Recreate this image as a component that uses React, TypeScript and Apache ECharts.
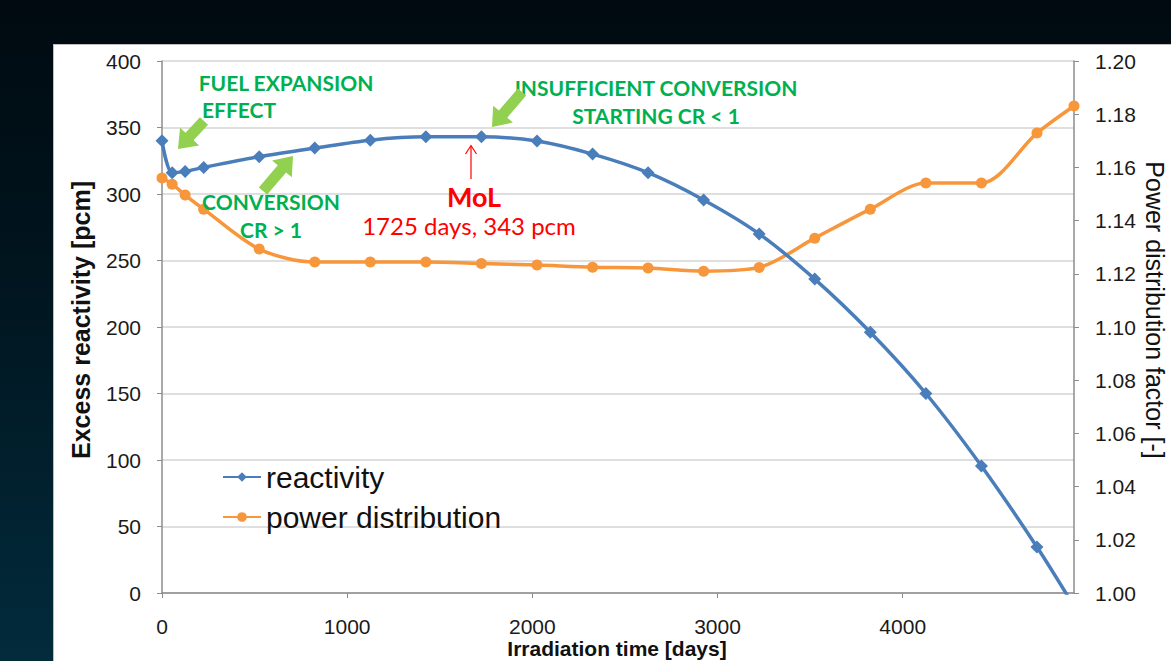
import React, { useEffect, useRef } from "react";
import * as echarts from "echarts";

// ---- data ----
const days = [0, 55, 125, 225, 525, 825, 1125, 1425, 1725, 2025, 2325, 2625, 2925, 3225, 3525, 3825, 4125, 4425, 4725, 4925];
const reactivity = [340, 316, 317, 320, 328, 334.5, 340.5, 343, 343, 339.8, 330, 316, 295.5, 270, 236, 196, 150, 95.5, 34.6, -10];
const powerFactor = [1.156, 1.1537, 1.1496, 1.1443, 1.1293, 1.1244, 1.1244, 1.1244, 1.1239, 1.1233, 1.1225, 1.1222, 1.121, 1.1224, 1.1334, 1.1443, 1.1541, 1.1541, 1.1729, 1.1831];
const seriesNames = ["reactivity", "power distribution"];
const xTitle = "Irradiation time [days]";
const yLeftTitle = "Excess reactivity [pcm]";
const yRightTitle = "Power distribution factor [-]";

const BLUE = "#4a7ebb";
const ORANGE = "#f7963a";
const GREEN_TXT = "#00b050";
const GREEN_ARROW = "#92d050";
const RED = "#ff0000";

function blockArrow(tail: number[], tip: number[], sw = 11, hw = 26, hl = 17) {
  const dx = tip[0] - tail[0];
  const dy = tip[1] - tail[1];
  const len = Math.hypot(dx, dy);
  const ux = dx / len, uy = dy / len;
  const nx = -uy, ny = ux;
  const bx = tip[0] - ux * hl, by = tip[1] - uy * hl;
  return [
    [tail[0] + nx * sw / 2, tail[1] + ny * sw / 2],
    [bx + nx * sw / 2, by + ny * sw / 2],
    [bx + nx * hw / 2, by + ny * hw / 2],
    [tip[0], tip[1]],
    [bx - nx * hw / 2, by - ny * hw / 2],
    [bx - nx * sw / 2, by - ny * sw / 2],
    [tail[0] - nx * sw / 2, tail[1] - ny * sw / 2],
  ];
}

export default function App() {
  const ref = useRef<HTMLDivElement>(null);
  useEffect(() => {
    if (!ref.current) return;
    const chart = echarts.init(ref.current, undefined, { renderer: "svg" });
    const annoFont = "bold 21px Lato";
    const txt = (text: string, x: number, y: number, fill: string, font: string, extra: any = {}) => ({
      type: "text",
      x,
      y,
      z: 100,
      ...extra,
      style: { text, fill, font, align: "center", verticalAlign: "middle" },
    });
    const tickLabel = { fontSize: 21, fontFamily: "Liberation Sans", color: "#1a1a1a" };
    chart.setOption({
      animation: false,
      backgroundColor: "transparent",
      grid: { left: 162, right: 97, top: 61, bottom: 68, containLabel: false },
      legend: {
        orient: "vertical",
        left: 217,
        top: 456,
        itemWidth: 38,
        itemHeight: 12,
        itemGap: 8,
        data: seriesNames,
        textStyle: { fontSize: 30, fontFamily: "Liberation Sans", color: "#111", lineHeight: 32 },
      },
      xAxis: {
        type: "value",
        min: 0,
        max: days[days.length - 1],
        interval: 1000,
        axisLine: { show: true, onZero: false, lineStyle: { color: "#8c8c8c", width: 1.5 } },
        axisTick: { show: true, length: 5, lineStyle: { color: "#8c8c8c" } },
        axisLabel: { ...tickLabel, margin: 23, showMaxLabel: false, formatter: (v: number) => String(v) },
        splitLine: { show: false },
      },
      yAxis: [
        {
          type: "value",
          min: 0,
          max: 400,
          interval: 50,
          axisLine: { show: true, lineStyle: { color: "#8c8c8c", width: 1.5 } },
          axisTick: { show: true, length: 5, lineStyle: { color: "#8c8c8c" } },
          axisLabel: { ...tickLabel, margin: 21 },
          splitLine: { show: true, lineStyle: { color: "#d4d4d4", width: 1.5 } },
        },
        {
          type: "value",
          min: 1.0,
          max: 1.2,
          interval: 0.02,
          position: "right",
          axisLine: { show: true, lineStyle: { color: "#8c8c8c", width: 1.5 } },
          axisTick: { show: true, length: 5, lineStyle: { color: "#8c8c8c" } },
          axisLabel: { ...tickLabel, margin: 21, formatter: (v: number) => v.toFixed(2) },
          splitLine: { show: false },
        },
      ],
      series: [
        {
          name: seriesNames[0],
          type: "line",
          yAxisIndex: 0,
          data: days.map((d, i) => [d, reactivity[i]]),
          smooth: 0.3,
          clip: true,
          symbol: "diamond",
          symbolSize: 13,
          lineStyle: { color: BLUE, width: 3.5 },
          itemStyle: { color: BLUE },
          z: 3,
        },
        {
          name: seriesNames[1],
          type: "line",
          yAxisIndex: 1,
          data: days.map((d, i) => [d, powerFactor[i]]),
          smooth: 0.3,
          clip: false,
          symbol: "circle",
          symbolSize: 11,
          lineStyle: { color: ORANGE, width: 3.5 },
          itemStyle: { color: ORANGE },
          z: 2,
        },
      ],
      graphic: [
        // axis titles
        txt(yLeftTitle, 81, 320, "#111", "bold 25px Liberation Sans", { rotation: Math.PI / 2 }),
        txt(yRightTitle, 1155, 310, "#111", "25px Liberation Sans", { rotation: -Math.PI / 2 }),
        txt(xTitle, 617, 648, "#111", "bold 21px Liberation Sans"),
        // green annotations
        txt("FUEL EXPANSION", 286, 82, GREEN_TXT, annoFont),
        { type: "text", x: 202, y: 109, z: 100, style: { text: "EFFECT", fill: GREEN_TXT, font: annoFont, align: "left", verticalAlign: "middle" } },
        txt("CONVERSION", 271, 201, GREEN_TXT, annoFont),
        txt("CR > 1", 271, 229, GREEN_TXT, annoFont),
        txt("INSUFFICIENT CONVERSION", 656, 87, GREEN_TXT, annoFont),
        txt("STARTING CR < 1", 656, 115, GREEN_TXT, annoFont),
        // MoL annotation
        txt("MoL", 474, 196, RED, "bold 27px Lato"),
        txt("1725 days, 343 pcm", 469, 225, RED, "24px Lato"),
        { type: "line", z: 100, shape: { x1: 471, y1: 179, x2: 471, y2: 146 }, style: { stroke: RED, lineWidth: 1.2 } },
        { type: "polyline", z: 100, shape: { points: [[465.5, 154], [471, 145.5], [476.5, 154]] }, style: { stroke: RED, lineWidth: 1.2, fill: null } },
        // green block arrows
        { type: "polygon", z: 100, shape: { points: blockArrow([204, 121], [178, 149]) }, style: { fill: GREEN_ARROW } },
        { type: "polygon", z: 100, shape: { points: blockArrow([263, 191], [293, 156]) }, style: { fill: GREEN_ARROW } },
        { type: "polygon", z: 100, shape: { points: blockArrow([522, 92], [492, 127]) }, style: { fill: GREEN_ARROW } },
      ],
    });
    return () => chart.dispose();
  }, []);

  return (
    <div
      style={{
        position: "absolute",
        left: 0,
        top: 0,
        width: 1171,
        height: 661,
        overflow: "hidden",
        background: "linear-gradient(180deg, #000a10 0%, #001620 45%, #022b3c 100%)",
      }}
    >
      <div
        style={{
          position: "absolute",
          left: 53,
          top: 44,
          width: 1130,
          height: 630,
          background: "#ffffff",
          border: "1px solid #bdbdbd",
        }}
      />
      <div ref={ref} style={{ position: "absolute", left: 0, top: 0, width: 1171, height: 661 }} />
    </div>
  );
}
